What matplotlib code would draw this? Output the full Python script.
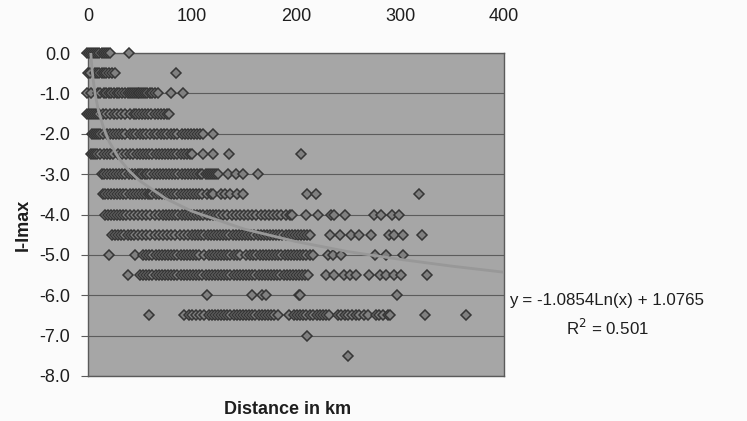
import matplotlib
matplotlib.use("Agg")
import matplotlib.pyplot as plt

plt.rcParams['font.family'] = ['Liberation Sans', 'DejaVu Sans']

km_00 = [-1, 1, 3, 5, 7, 9, 11, 13, 15, 17, 19, 21, 39]
km_05 = [0, 2, 7, 9, 11, 13, 15, 17, 20, 23, 26, 85]
km_10 = [-1, 3, 10, 12, 15, 17, 20, 22, 25, 28, 30, 33, 36, 38, 40, 42, 44, 46, 48, 49, 51, 53, 55, 57, 60, 62, 64, 67, 80, 91]
km_15 = [-1, 1, 3, 5, 7, 9, 11, 14, 17, 21, 25, 28, 32, 36, 40, 44, 46, 49, 52, 55, 58, 61, 64, 67, 70, 73, 76, 78]
km_20 = [4, 6, 8, 10, 12, 14, 18, 21, 24, 27, 30, 33, 36, 40, 43, 46, 50, 53, 56, 60, 63, 66, 70, 73, 76, 80, 83, 86, 90, 93, 96, 99, 102, 105, 108, 111, 120]
km_25 = [3, 5, 7, 9, 12, 15, 18, 21, 24, 29, 33, 37, 40, 43, 47, 50, 53, 56, 59, 62, 65, 68, 71, 74, 77, 80, 83, 86, 89, 92, 95, 98, 100, 111, 120, 136, 205]
km_30 = [13, 15, 18, 21, 24, 27, 30, 33, 36, 39, 42, 45, 48, 50, 52, 55, 57, 60, 63, 66, 69, 72, 75, 78, 81, 84, 87, 90, 93, 96, 99, 102, 105, 108, 110, 113, 115, 117, 119, 121, 123, 125, 135, 142, 149, 163]
km_35 = [14, 16, 19, 22, 25, 28, 31, 34, 37, 40, 43, 46, 49, 52, 55, 58, 60, 62, 65, 68, 71, 74, 77, 80, 83, 86, 89, 92, 95, 98, 101, 104, 107, 110, 114, 118, 120, 128, 132, 137, 143, 149, 211, 219, 318]
km_40 = [16, 19, 22, 25, 28, 31, 34, 37, 40, 44, 48, 52, 56, 60, 64, 68, 72, 75, 78, 81, 84, 87, 90, 93, 96, 99, 102, 105, 108, 111, 114, 117, 120, 123, 126, 130, 134, 138, 142, 146, 150, 154, 158, 162, 166, 170, 174, 178, 182, 186, 190, 194, 196, 210, 221, 234, 237, 247, 275, 282, 292, 299]
km_45 = [23, 26, 29, 32, 35, 38, 41, 44, 48, 52, 56, 60, 64, 68, 72, 76, 80, 84, 88, 92, 96, 100, 103, 106, 109, 112, 115, 118, 121, 124, 127, 130, 133, 136, 139, 142, 145, 148, 151, 154, 157, 160, 163, 166, 169, 172, 175, 178, 181, 184, 187, 190, 193, 196, 199, 202, 205, 208, 211, 213, 233, 242, 253, 261, 272, 289, 294, 303, 321]
km_50 = [20, 45, 53, 56, 59, 62, 65, 68, 71, 74, 77, 80, 83, 86, 89, 92, 95, 98, 101, 104, 107, 112, 116, 119, 122, 125, 128, 131, 134, 137, 140, 143, 146, 152, 156, 159, 162, 165, 168, 171, 174, 177, 180, 183, 186, 189, 192, 195, 198, 201, 204, 207, 210, 213, 216, 231, 236, 243, 276, 287, 303]
km_55 = [38, 50, 53, 56, 59, 62, 65, 68, 71, 74, 77, 80, 83, 86, 89, 92, 95, 98, 101, 104, 107, 110, 113, 116, 119, 122, 125, 128, 131, 134, 137, 140, 143, 146, 149, 152, 155, 158, 161, 164, 167, 170, 173, 176, 179, 182, 185, 188, 191, 194, 197, 200, 203, 206, 209, 212, 229, 237, 246, 252, 258, 270, 281, 287, 294, 301, 326]
km_60 = [114, 158, 167, 171, 203, 204, 297]
km_65 = [59, 92, 97, 100, 104, 108, 112, 116, 119, 122, 125, 128, 131, 134, 137, 140, 143, 146, 149, 152, 155, 158, 161, 164, 167, 170, 173, 176, 179, 183, 193, 198, 201, 204, 207, 210, 213, 216, 220, 223, 226, 229, 232, 240, 243, 247, 250, 254, 258, 261, 265, 269, 277, 280, 284, 288, 290, 324, 363]
km_70 = [211]
km_75 = [250]

rows = [0.0, -0.5, -1.0, -1.5, -2.0, -2.5, -3.0, -3.5, -4.0, -4.5, -5.0, -5.5, -6.0, -6.5, -7.0, -7.5]
row_km = [km_00, km_05, km_10, km_15, km_20, km_25, km_30, km_35, km_40, km_45, km_50, km_55, km_60, km_65, km_70, km_75]

trend_x = [1, 1.5, 2, 3, 4, 5, 7, 10, 15, 20, 30, 40, 50, 75, 100, 150, 200, 250, 300, 350, 400]
trend_y = [1.08, 0.64, 0.32, -0.12, -0.43, -0.67, -1.04, -1.42, -1.86, -2.18, -2.62, -2.93, -3.17, -3.61, -3.92, -4.36, -4.67, -4.92, -5.11, -5.28, -5.43]

y_ticks = [0, -1, -2, -3, -4, -5, -6, -7, -8]
x_ticks = [0, 100, 200, 300, 400]

W, H = 747, 421
fig = plt.figure(figsize=(W / 100, H / 100), dpi=100, facecolor='#fbfbfb')
ax = fig.add_axes([88 / W, 1 - 376 / H, (504 - 88) / W, (376 - 53) / H], facecolor='#a6a6a6')

for y in y_ticks:
    ax.axhline(y, color='#5c5c5c', lw=0.8, zorder=1)

for y, xs in zip(rows, row_km):
    ax.plot(xs, [y] * len(xs), ls='none', marker='D', ms=5.6, mfc='#808080',
            mec='#363636', mew=1.1, zorder=3, clip_on=False)

ax.plot(trend_x, trend_y, color='#989898', lw=2, zorder=4)

ax.set_xlim(0, 400)
ax.set_ylim(-8, 0)
ax.xaxis.tick_top()
ax.set_xticks(x_ticks)
ax.set_yticks(y_ticks)
ax.set_yticklabels([f"{v:.1f}" for v in y_ticks])
ax.tick_params(axis='x', length=0, pad=20, labelsize=13, colors='#1e1e1e')
ax.tick_params(axis='y', length=5, width=0.8, color='#5c5c5c', pad=8, labelsize=13, labelcolor='#1e1e1e')
for s in ax.spines.values():
    s.set_color('#5a5a5a')
    s.set_linewidth(1.0)

fig.text(288 / W, 1 - 410 / H, "Distance in km", ha='center', va='center',
         fontsize=13, fontweight='bold', color='#1e1e1e')
fig.text(23 / W, 1 - 225 / H, "I-Imax", ha='center', va='center', rotation=90,
         fontsize=13, fontweight='bold', color='#1e1e1e')
fig.text(607 / W, 1 - 301 / H, "y = -1.0854Ln(x) + 1.0765", ha='center', va='center',
         fontsize=12.2, color='#1e1e1e')
fig.text(607 / W, 1 - 328 / H, "R$^2$ = 0.501", ha='center', va='center',
         fontsize=12.2, color='#1e1e1e', math_fontfamily='dejavusans')

fig.savefig("out.png", dpi=100, facecolor=fig.get_facecolor())
